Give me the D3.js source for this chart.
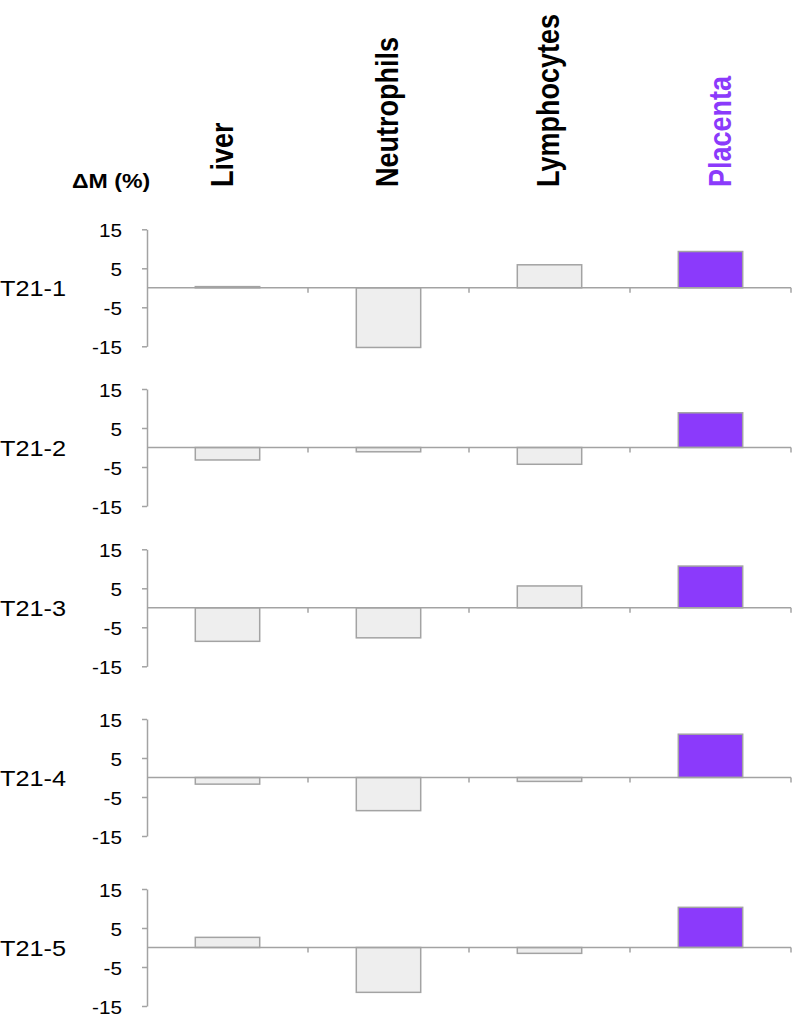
<!DOCTYPE html>
<html>
<head>
<meta charset="utf-8">
<script src="https://cdn.jsdelivr.net/npm/d3@7"></script>
<style>
  html, body { margin: 0; padding: 0; background: #fff; }
  svg { display: block; }
  text { font-family: "Liberation Sans", Arial, sans-serif; }
</style>
</head>
<body>
<svg id="chart" width="796" height="1020"></svg>
<script>
// ---- data ----
const categories = ["Liver", "Neutrophils", "Lymphocytes", "Placenta"];
const samples = ["T21-1", "T21-2", "T21-3", "T21-4", "T21-5"];
const t21_1 = [0.3, -15.3, 5.9, 9.3];
const t21_2 = [-3.2, -1.1, -4.3, 8.9];
const t21_3 = [-8.6, -7.7, 5.6, 10.7];
const t21_4 = [-1.7, -8.5, -1.0, 11.1];
const t21_5 = [2.6, -11.5, -1.5, 10.3];
const seriesValues = [t21_1, t21_2, t21_3, t21_4, t21_5];
const yTicks = [-15, -5, 5, 15];
const yTickLabels = ["-15", "-5", "5", "15"];
const yDomain = [-15, 15];
const yAxisTitle = "\u0394M (%)";
const highlight = "Placenta";

// ---- layout ----
const svg = d3.select("#chart");
const panelTops = [229.3, 389, 549.3, 719, 889];
const panelH = 117;
const left = 147, right = 791;
const axisColor = "#a3a3a3";
const barGray = "#eeeeee";
const purple = "#8b3afb";
const sx = 1.15; // horizontal stretch of text in the reference

const x = d3.scaleBand().domain(categories).range([left, right])
  .paddingInner(0.6).paddingOuter(0.3);

// Column headers (rotated)
svg.append("g").selectAll("text").data(categories).join("text")
  .attr("transform", d => `translate(${x(d) + x.bandwidth() / 2 + (d === "Placenta" ? 20 : d === "Liver" ? 5.5 : 9)},187) scale(${sx},1) rotate(-90)`)
  .attr("font-size", 27)
  .attr("font-weight", "bold")
  .attr("fill", d => d === highlight ? purple : "#000")
  .text(d => d);

// y-axis title
svg.append("text")
  .attr("transform", `translate(72,188) scale(${sx - 0.05},1)`)
  .attr("font-size", 21)
  .attr("font-weight", "bold")
  .text(yAxisTitle);

samples.forEach((s, i) => {
  const vals = seriesValues[i];
  const top = panelTops[i];
  const y = d3.scaleLinear().domain(yDomain).range([top + panelH, top]);
  const g = svg.append("g");

  // y axis
  const ax = g.append("g").attr("transform", `translate(${left},0)`)
    .call(d3.axisLeft(y).tickValues(yTicks).tickSize(5).tickSizeOuter(0)
      .tickFormat((d, k) => yTickLabels[k]));
  ax.select(".domain").attr("stroke", axisColor).attr("stroke-width", 1.5);
  ax.selectAll(".tick line").attr("stroke", axisColor).attr("stroke-width", 1.5);
  ax.selectAll(".tick text")
    .attr("font-size", 18).attr("fill", "#000")
    .attr("font-family", "Liberation Sans, Arial, sans-serif")
    .attr("x", null).attr("dy", null)
    .attr("transform", `translate(-25,7) scale(${sx},1)`)
    .attr("text-anchor", "end");

  // bars
  g.selectAll("rect").data(categories).join("rect")
    .attr("x", d => x(d))
    .attr("width", x.bandwidth())
    .attr("y", (d, j) => y(Math.max(0, vals[j])))
    .attr("height", (d, j) => Math.abs(y(vals[j]) - y(0)))
    .attr("fill", d => d === highlight ? purple : barGray)
    .attr("stroke", axisColor)
    .attr("stroke-width", 1.5);

  // zero line (category axis)
  g.append("line")
    .attr("x1", left).attr("x2", right)
    .attr("y1", y(0)).attr("y2", y(0))
    .attr("stroke", axisColor).attr("stroke-width", 1.5);
  g.selectAll("line.ct").data(categories).join("line").attr("class", "ct")
    .attr("x1", d => x(d) + x.bandwidth() / 2 + x.step() / 2)
    .attr("x2", d => x(d) + x.bandwidth() / 2 + x.step() / 2)
    .attr("y1", y(0)).attr("y2", y(0) + 5)
    .attr("stroke", axisColor).attr("stroke-width", 1.5);

  // row label
  g.append("text")
    .attr("transform", `translate(0,${y(0) + 8}) scale(${sx},1)`)
    .attr("font-size", 22)
    .text(s);
});
</script>
</body>
</html>
